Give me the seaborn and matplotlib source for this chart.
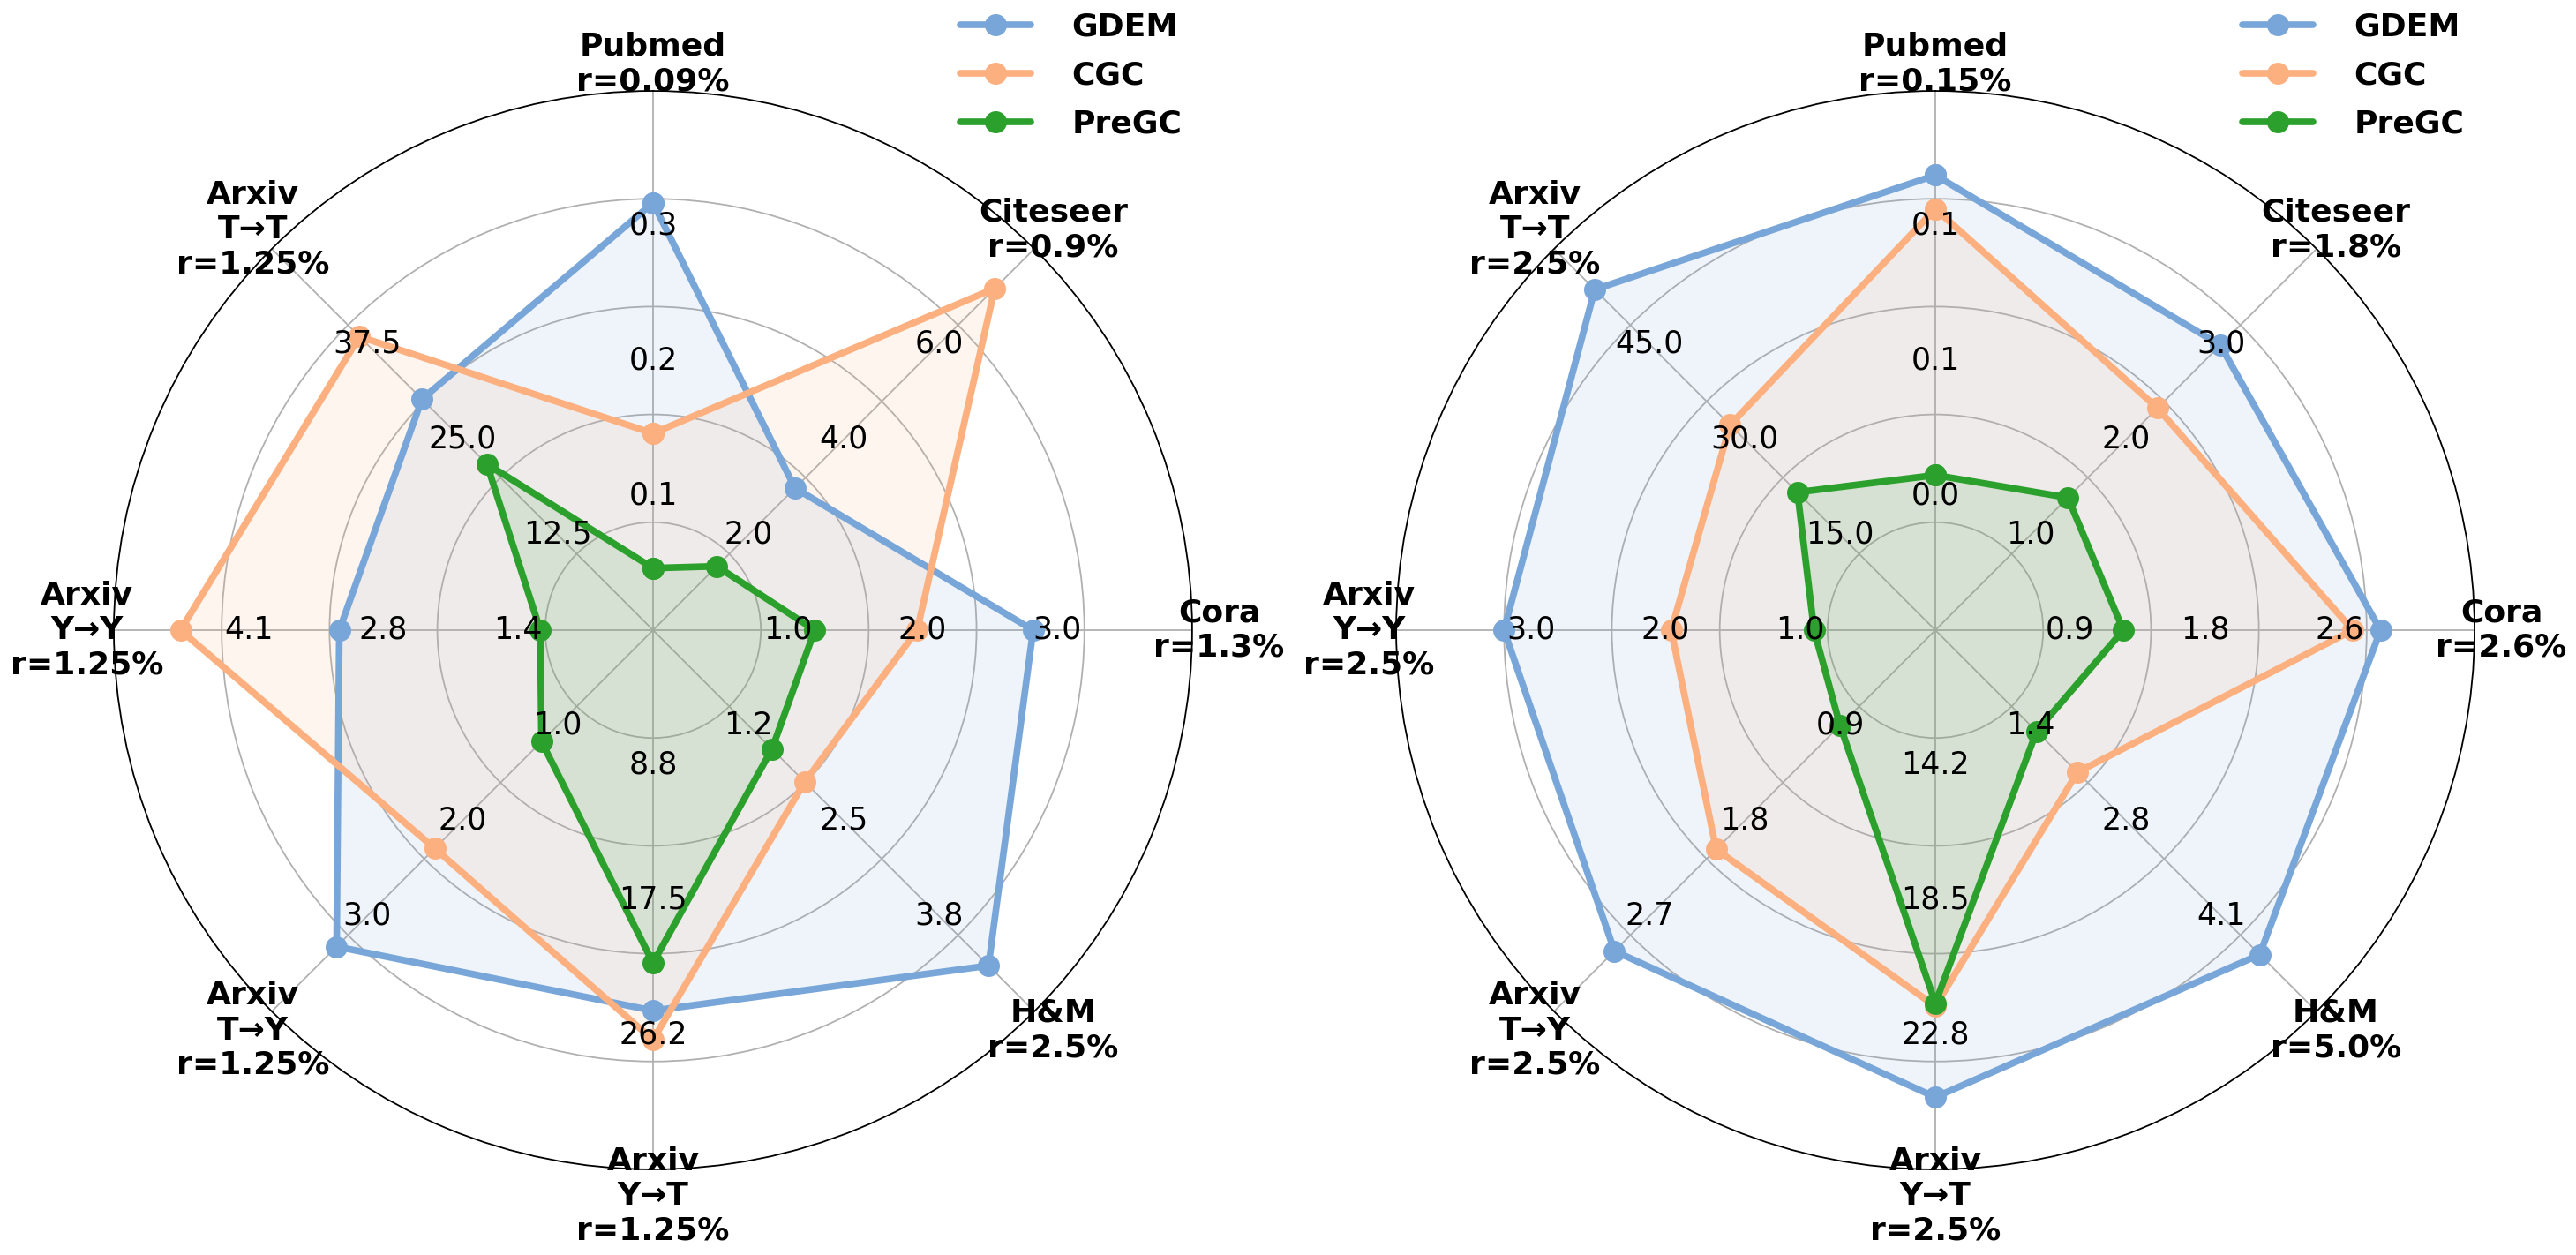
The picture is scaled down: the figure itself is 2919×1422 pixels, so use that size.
import matplotlib
matplotlib.use("Agg")
import numpy as np
import pandas as pd
import matplotlib.pyplot as plt
import seaborn as sns
from matplotlib.font_manager import FontProperties

# axes, clockwise from the top
categories = ["Pubmed", "Citeseer", "Cora", "H&M",
              "Arxiv\nY→T", "Arxiv\nT→Y", "Arxiv\nY→Y", "Arxiv\nT→T"]
methods = ["GDEM", "CGC", "PreGC"]
palette = {"GDEM": "#79A6D9", "CGC": "#FDB07F", "PreGC": "#2CA02C"}

# left panel
ratios_left = ["0.09%", "0.9%", "1.3%", "2.5%", "1.25%", "1.25%", "1.25%", "1.25%"]
lo_left = [0, 0, 0, 0, 0, 0, 0, 0]
hi_left = [0.4, 8, 4, 5, 35, 4, 5.5, 50]
gdem_left = [0.317, 2.98, 2.82, 4.40, 24.7, 3.32, 3.20, 30.3]
cgc_left = [0.146, 7.17, 1.96, 1.99, 26.6, 2.29, 4.82, 38.5]
pregc_left = [0.046, 1.34, 1.20, 1.56, 21.6, 1.17, 1.15, 21.8]

# right panel
ratios_right = ["0.15%", "1.8%", "2.6%", "5.0%", "2.5%", "2.5%", "2.5%", "2.5%"]
lo_right = [0, 0, 0, 0, 9.9, 0, 0, 0]
hi_right = [0.16, 4, 3.5, 5.5, 27.1, 3.6, 4, 60]
gdem_right = [0.135, 2.99, 2.89, 4.68, 24.8, 3.03, 3.20, 53.6]
cgc_right = [0.125, 2.33, 2.71, 2.05, 21.9, 2.07, 1.96, 32.3]
pregc_right = [0.046, 1.39, 1.22, 1.46, 21.8, 0.90, 0.90, 21.7]

sns.set_style("white")
plt.rcParams["font.family"] = ["DejaVu Sans"]
plt.rcParams["text.color"] = "black"


def draw_radar(ax, series, lo, hi, ratios):
    n = len(categories)
    angles = np.linspace(0, 2 * np.pi, n, endpoint=False)
    lo = np.array(lo, dtype=float)
    hi = np.array(hi, dtype=float)

    ax.set_theta_offset(np.pi / 2)
    ax.set_theta_direction(-1)

    rows = []
    for m in methods:
        r = (np.array(series[m]) - lo) / (hi - lo)
        th = np.append(angles, angles[0] + 2 * np.pi)
        rc = np.append(r, r[0])
        for t, v in zip(th, rc):
            rows.append({"theta": t, "r": v, "method": m})
        ax.fill(th, rc, color=palette[m], alpha=0.12, zorder=1, lw=0)
    df = pd.DataFrame(rows)

    sns.lineplot(data=df, x="theta", y="r", hue="method", hue_order=methods,
                 palette=palette, sort=False, estimator=None, marker="o",
                 markersize=18, linewidth=5.5, markeredgewidth=0,
                 legend=False, ax=ax)
    for line in ax.lines:
        line.set_zorder(3)

    ax.set_ylim(0, 1)
    ax.set_rgrids([0.2, 0.4, 0.6, 0.8], labels=[""] * 4)
    ax.set_thetagrids(np.degrees(angles), labels=[""] * n)
    ax.grid(True, color="#b0b0b0", linewidth=1.3)
    ax.spines["polar"].set_edgecolor("black")
    ax.spines["polar"].set_linewidth(1.3)
    ax.set_xlabel("")
    ax.set_ylabel("")
    ax.tick_params(length=0)

    # per-axis value labels
    for i, a in enumerate(angles):
        for f in (0.25, 0.5, 0.75):
            val = lo[i] + (hi[i] - lo[i]) * f
            ax.text(a, f, f"{val:.1f}", ha="center", va="center",
                    fontsize=25, color="black", zorder=5)
        ax.text(a, 1.05, f"{categories[i]}\nr={ratios[i]}", ha="center",
                va="center", fontsize=26, fontweight="bold", color="black",
                zorder=5)

    leg = ax.legend(ax.lines[:3], methods, loc="upper left",
                    bbox_to_anchor=(0.785, 1.073), frameon=False,
                    borderaxespad=0, borderpad=0, labelspacing=0.58,
                    handletextpad=1.3, handlelength=2.2,
                    prop=FontProperties(family="DejaVu Sans", weight="bold", size=26))
    for t in leg.get_texts():
        t.set_color("black")


fig = plt.figure(figsize=(29.19, 14.22), dpi=100)
ax_l = fig.add_axes([0.0442, 0.0682, 0.4186, 0.8594], projection="polar")
ax_r = fig.add_axes([0.5420, 0.0682, 0.4186, 0.8594], projection="polar")

draw_radar(ax_l, {"GDEM": gdem_left, "CGC": cgc_left, "PreGC": pregc_left},
           lo_left, hi_left, ratios_left)
draw_radar(ax_r, {"GDEM": gdem_right, "CGC": cgc_right, "PreGC": pregc_right},
           lo_right, hi_right, ratios_right)

fig.savefig("out.png", dpi=100)
